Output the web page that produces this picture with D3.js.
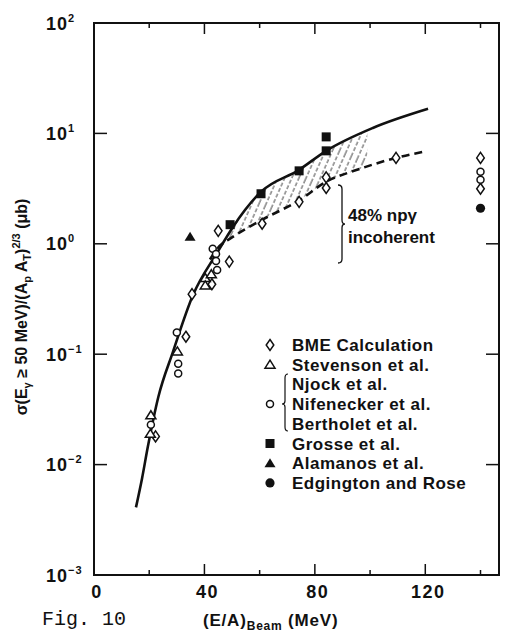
<!DOCTYPE html>
<html>
<head>
<meta charset="utf-8">
<script src="https://cdn.jsdelivr.net/npm/d3@7"></script>
<style>
	body { margin: 0; background: #fff; }
	text { font-family: "Liberation Sans", Arial, sans-serif; font-weight: bold; fill: #111; }
</style>
</head>
<body>
<div id="chart"></div>
<script>
// axis ticks
var xTicks = [0, 40, 80, 120];
var xMinorTicks = [20, 60, 100, 140];
var yExponents = [-3, -2, -1, 0, 1, 2];

// curves: [E/A, sigma]
var solidCurve = [[15.2, 0.0041], [17.4, 0.0075], [19.5, 0.0145], [23.3, 0.041], [28.6, 0.105], [35.9, 0.345], [44.6, 0.83], [50.4, 1.43], [60.5, 2.96], [74.3, 4.68], [84.1, 6.95], [101, 11.2], [121, 16.7]];
var dashedCurve = [[42, 0.72], [44.6, 0.9], [50.4, 1.16], [60.9, 1.65], [74.6, 2.5], [84.1, 3.65], [95.3, 4.68], [109.4, 6.0], [119.2, 6.8]];
var hatchRange = [47, 99];

// data points
var bmeCalculation = [[109.4, 6.0], [84.1, 4.0], [84.1, 3.2], [74.3, 2.4], [60.9, 1.52], [45, 1.31], [49, 0.69], [42.7, 0.43], [35.5, 0.35], [33.3, 0.144], [22.3, 0.018], [140, 6.0], [140, 3.15]];
var stevenson = [[40.3, 0.49], [40.3, 0.42], [42.5, 0.53], [30.2, 0.106], [20.6, 0.028], [20.4, 0.019]];
var njockNifBerth = [[43, 0.9], [44.2, 0.81], [44.2, 0.70], [44.6, 0.58], [30, 0.157], [30.5, 0.082], [30.5, 0.067], [20.6, 0.023], [140, 4.5], [140, 3.8]];
var grosse = [[49.3, 1.49], [60.5, 2.84], [74.3, 4.58], [84.1, 6.95], [84.1, 9.3]];
var alamanos = [[34.8, 1.16]];
var edgington = [[140, 2.1]];

var legendRows = [
	{ label: "BME Calculation", marker: "diamond" },
	{ label: "Stevenson et al.", marker: "triangle" },
	{ label: "Njock et al.", marker: null },
	{ label: "Nifenecker et al.", marker: "circle" },
	{ label: "Bertholet et al.", marker: null },
	{ label: "Grosse et al.", marker: "square" },
	{ label: "Alamanos et al.", marker: "triangleFilled" },
	{ label: "Edgington and Rose", marker: "dot" }
];

var W = 509, H = 638;
var m = { left: 94, right: 499, top: 23, bottom: 575 };

var svg = d3.select("#chart")
	.append("svg")
	.attr("width", W)
	.attr("height", H);

var x = d3.scaleLinear().domain([0, 146.7]).range([m.left, m.right]);
var y = d3.scaleLog().domain([1e-3, 1e2]).range([m.bottom, m.top]);

// hatch pattern
var defs = svg.append("defs");
defs.append("pattern")
	.attr("id", "hatch")
	.attr("patternUnits", "userSpaceOnUse")
	.attr("width", 6.5)
	.attr("height", 40)
	.attr("patternTransform", "rotate(24)")
	.append("line")
	.attr("x1", 1).attr("y1", 0)
	.attr("x2", 1).attr("y2", 40)
	.style("stroke", "#111")
	.style("stroke-width", 0.8)
	.style("stroke-dasharray", "4,2");

// log-linear interpolation along a curve
var interp = function(_pts, _x) {
	for(var i = 0 ; i < _pts.length - 1 ; i++) {
		var a = _pts[i], b = _pts[i + 1];
		if(_x >= a[0] && _x <= b[0]) {
			var t = (_x - a[0]) / (b[0] - a[0]);
			return Math.pow(10, Math.log10(a[1]) + t * (Math.log10(b[1]) - Math.log10(a[1])));
		}
	}
	return _pts[_pts.length - 1][1];
};

var samples = d3.range(hatchRange[0], hatchRange[1] + 0.01, 0.5);
var hatchArea = d3.area()
	.x(function(_d) { return x(_d); })
	.y0(function(_d) { return y(interp(dashedCurve, _d)); })
	.y1(function(_d) { return y(interp(solidCurve, _d)); });

defs.append("clipPath")
	.attr("id", "hatchClip")
	.append("path")
	.attr("d", hatchArea(samples));

svg.append("rect")
	.attr("clip-path", "url(#hatchClip)")
	.attr("x", m.left).attr("y", m.top)
	.attr("width", m.right - m.left)
	.attr("height", m.bottom - m.top)
	.style("fill", "url(#hatch)");

// curves
var line = d3.line()
	.x(function(_d) { return x(_d[0]); })
	.y(function(_d) { return y(_d[1]); })
	.curve(d3.curveMonotoneX);

svg.append("path")
	.attr("d", line(solidCurve))
	.style("fill", "none")
	.style("stroke", "#111")
	.style("stroke-width", 2.6);

svg.append("path")
	.attr("d", line(dashedCurve))
	.style("fill", "none")
	.style("stroke", "#111")
	.style("stroke-width", 2.6)
	.style("stroke-dasharray", "8,5");

// frame
svg.append("rect")
	.attr("x", m.left).attr("y", m.top)
	.attr("width", m.right - m.left)
	.attr("height", m.bottom - m.top)
	.style("fill", "none")
	.style("stroke", "#111")
	.style("stroke-width", 2);

// ticks
var tickG = svg.append("g").style("stroke", "#111").style("stroke-width", 1.5);
xTicks.concat(xMinorTicks).forEach(function(_t) {
	if(_t === 0) return;
	var len = xTicks.indexOf(_t) >= 0 ? 11 : 5;
	tickG.append("line").attr("x1", x(_t)).attr("x2", x(_t)).attr("y1", m.bottom).attr("y2", m.bottom - len);
	tickG.append("line").attr("x1", x(_t)).attr("x2", x(_t)).attr("y1", m.top).attr("y2", m.top + len);
});
yExponents.forEach(function(_e) {
	var v = Math.pow(10, _e);
	if(_e === 2 || _e === -3) return;
	tickG.append("line").attr("x1", m.left).attr("x2", m.left + 13).attr("y1", y(v)).attr("y2", y(v));
	tickG.append("line").attr("x1", m.right).attr("x2", m.right - 13).attr("y1", y(v)).attr("y2", y(v));
});

// tick labels
xTicks.forEach(function(_t) {
	svg.append("text")
		.attr("x", x(_t) + 3)
		.attr("y", 598)
		.attr("text-anchor", "middle")
		.style("font-size", "18px")
		.style("letter-spacing", "1.5px")
		.text(_t);
});
yExponents.forEach(function(_e) {
	var t = svg.append("text")
		.attr("x", 46)
		.attr("y", y(Math.pow(10, _e)) + 6.5)
		.style("font-size", "18px")
		.style("letter-spacing", "1px");
	t.append("tspan").text("10");
	t.append("tspan")
		.attr("dy", -8)
		.style("font-size", "11px")
		.text(_e < 0 ? "\u2212" + (-_e) : _e);
});

// markers
var drawMarker = function(_g, _type, _cx, _cy) {
	switch(_type) {
		case "diamond" :
			return _g.append("path")
				.attr("d", "M" + _cx + "," + (_cy - 5.5) + "L" + (_cx + 3.8) + "," + _cy + "L" + _cx + "," + (_cy + 5.5) + "L" + (_cx - 3.8) + "," + _cy + "Z")
				.style("fill", "#fff").style("stroke", "#111").style("stroke-width", 1.5);
		case "triangle" :
			return _g.append("path")
				.attr("d", "M" + _cx + "," + (_cy - 4.5) + "L" + (_cx + 5) + "," + (_cy + 3.5) + "L" + (_cx - 5) + "," + (_cy + 3.5) + "Z")
				.style("fill", "#fff").style("stroke", "#111").style("stroke-width", 1.5);
		case "circle" :
			return _g.append("circle")
				.attr("cx", _cx).attr("cy", _cy).attr("r", 3.5)
				.style("fill", "#fff").style("stroke", "#111").style("stroke-width", 1.5);
		case "square" :
			return _g.append("rect")
				.attr("x", _cx - 4.5).attr("y", _cy - 4.5)
				.attr("width", 9).attr("height", 9)
				.style("fill", "#111");
		case "triangleFilled" :
			return _g.append("path")
				.attr("d", "M" + _cx + "," + (_cy - 5) + "L" + (_cx + 5.5) + "," + (_cy + 4) + "L" + (_cx - 5.5) + "," + (_cy + 4) + "Z")
				.style("fill", "#111");
		case "dot" :
			return _g.append("circle")
				.attr("cx", _cx).attr("cy", _cy).attr("r", 4.6)
				.style("fill", "#111");
	}
};

var series = [
	{ data: bmeCalculation, marker: "diamond" },
	{ data: stevenson, marker: "triangle" },
	{ data: njockNifBerth, marker: "circle" },
	{ data: grosse, marker: "square" },
	{ data: alamanos, marker: "triangleFilled" },
	{ data: edgington, marker: "dot" }
];
var pointG = svg.append("g");
series.forEach(function(_s) {
	_s.data.forEach(function(_d) {
		drawMarker(pointG, _s.marker, x(_d[0]), y(_d[1]));
	});
});

// 48% annotation
svg.append("path")
	.attr("d", "M338,185 Q342,185 342,189 L342,220 Q342,224 345,224 Q342,224 342,228 L342,259 Q342,263 338,263")
	.style("fill", "none").style("stroke", "#111").style("stroke-width", 1.3);
svg.append("text")
	.attr("x", 348).attr("y", 221)
	.style("font-size", "17px")
	.text("48% np\u03b3");
svg.append("text")
	.attr("x", 348).attr("y", 243)
	.style("font-size", "17px")
	.text("incoherent");

// legend
var legendG = svg.append("g");
legendRows.forEach(function(_r, i) {
	var ly = 345 + i * 19.7;
	if(_r.marker) drawMarker(legendG, _r.marker, 270, ly);
	legendG.append("text")
		.attr("x", 292)
		.attr("y", ly + 6)
		.style("font-size", "17px")
		.style("letter-spacing", "0.5px")
		.text(_r.label);
});
legendG.append("path")
	.attr("d", "M288,374 Q285,374 285,378 L285,401 Q285,404 282,404 Q285,404 285,407 L285,427 Q285,431 288,431")
	.style("fill", "none").style("stroke", "#111").style("stroke-width", 1.2);

// axis titles
var xt = svg.append("text")
	.attr("x", 203).attr("y", 626)
	.style("font-size", "17px")
	.style("letter-spacing", "0.8px");
xt.append("tspan").text("(E/A)");
xt.append("tspan").attr("dy", 4).style("font-size", "12px").text("Beam");
xt.append("tspan").attr("dy", -4).text(" (MeV)");

var yt = svg.append("text")
	.attr("transform", "translate(27,307) rotate(-90)")
	.attr("text-anchor", "middle")
	.style("font-size", "16px");
yt.append("tspan").text("\u03c3(E");
yt.append("tspan").attr("dy", 4).style("font-size", "11px").text("\u03b3");
yt.append("tspan").attr("dy", -4).text(" \u2265 50 MeV)/(A");
yt.append("tspan").attr("dy", 4).style("font-size", "11px").text("p");
yt.append("tspan").attr("dy", -4).text("  A");
yt.append("tspan").attr("dy", 4).style("font-size", "11px").text("T");
yt.append("tspan").attr("dy", -4).text(")");
yt.append("tspan").attr("dy", -7).style("font-size", "11px").text("2/3");
yt.append("tspan").attr("dy", 7).text(" (\u03bcb)");

svg.append("text")
	.attr("x", 42).attr("y", 625)
	.style("font-family", "'Liberation Mono', 'DejaVu Sans Mono', monospace")
	.style("font-weight", "normal")
	.style("font-size", "20px")
	.text("Fig. 10");
</script>
</body>
</html>
